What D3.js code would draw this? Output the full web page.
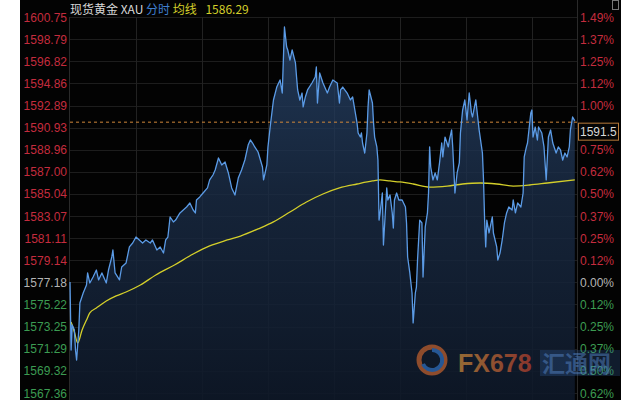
<!DOCTYPE html>
<html><head><meta charset="utf-8">
<script src="https://cdn.jsdelivr.net/npm/d3@7"></script>
<style>html,body{margin:0;padding:0;background:#fff;}svg{display:block}</style>
</head><body>
<svg id="c" width="640" height="400"></svg>
<script>
const priceTicks = [1600.75,1598.79,1596.82,1594.86,1592.89,1590.93,1588.96,1587.00,1585.04,1583.07,1581.11,1579.14,1577.18,1575.22,1573.25,1571.29,1569.32,1567.36];
const pctTicks = ["1.49%","1.37%","1.25%","1.12%","1.00%","0.87%","0.75%","0.62%","0.50%","0.37%","0.25%","0.12%","0.00%","0.12%","0.25%","0.37%","0.50%","0.62%"];
const basePrice = 1577.18;
const hourTicks = [60,120,180,240,300,360,420];
const timeDomain = [0,461];
const lastPrice = 1591.5;
const avgLast = 1586.29;

const times = [0,1,2,4,5,6,8,9,12,15,16,18,21,24,26,29,33,35,38,39,41,45,47,51,54,57,60,63,66,69,73,75,79,82,85,87,89,91,94,96,100,103,106,109,112,114,115,118,121,125,127,130,132,135,138,141,144,147,150,153,156,159,162,164,166,168,171,175,176,177,179,180,182,185,188,191,193,194,195,197,198,200,202,205,206,207,209,211,212,214,216,220,223,224,225,227,230,234,236,239,243,245,246,248,252,255,257,259,261,262,264,265,266,268,270,271,272,275,276,277,279,280,281,282,284,285,288,289,291,293,294,295,297,299,302,305,306,307,309,311,312,314,315,316,318,320,321,323,325,326,327,328,330,332,334,336,338,339,341,344,345,347,348,350,352,354,355,357,359,361,363,365,366,369,370,372,375,376,377,378,379,381,384,385,388,389,391,393,395,397,399,402,403,405,407,410,412,413,415,416,419,420,421,423,425,426,429,431,433,435,437,439,442,444,446,448,450,452,454,455,457,459];
const prices = [1577.22,1571.18,1573.40,1572.96,1571.18,1570.29,1572.96,1575.35,1576.24,1576.95,1578.02,1577.13,1577.66,1578.28,1577.40,1578.02,1577.13,1578.28,1579.44,1580.06,1578.02,1577.40,1578.55,1578.91,1580.33,1580.68,1581.21,1580.95,1580.68,1580.95,1580.68,1580.95,1580.06,1580.33,1579.79,1580.95,1581.21,1582.99,1582.55,1582.72,1583.35,1583.61,1583.88,1584.23,1583.61,1583.35,1584.50,1584.77,1585.12,1585.57,1586.28,1586.72,1587.16,1588.23,1587.61,1587.87,1586.90,1585.57,1584.94,1586.45,1587.16,1588.05,1589.38,1589.83,1589.56,1589.21,1588.76,1587.43,1586.28,1586.72,1587.61,1589.21,1590.98,1593.38,1594.53,1595.16,1594.00,1596.93,1599.86,1598.09,1597.82,1596.93,1597.82,1596.67,1595.42,1594.27,1593.38,1594.00,1592.76,1593.65,1594.27,1594.89,1595.42,1596.31,1593.11,1595.78,1594.89,1594.00,1594.53,1595.16,1594.89,1593.11,1594.27,1594.53,1594.00,1593.38,1593.65,1592.49,1591.34,1590.45,1590.09,1590.45,1589.56,1588.67,1590.45,1592.76,1594.27,1593.11,1591.34,1590.09,1589.21,1588.05,1582.72,1583.35,1585.12,1580.50,1585.57,1584.50,1584.94,1583.35,1582.01,1584.50,1585.12,1584.50,1584.50,1583.88,1582.46,1579.44,1578.02,1576.24,1573.58,1576.24,1576.77,1579.17,1582.72,1582.46,1577.66,1582.10,1583.35,1585.12,1589.21,1587.43,1586.28,1586.90,1586.28,1587.79,1589.56,1588.32,1590.09,1589.21,1589.83,1590.72,1589.21,1585.12,1586.90,1587.79,1590.45,1592.49,1593.38,1591.60,1594.00,1592.23,1591.87,1593.38,1592.49,1590.72,1588.67,1586.28,1582.72,1580.33,1582.72,1581.57,1582.99,1581.57,1580.33,1579.17,1579.79,1580.95,1582.46,1583.35,1583.88,1583.61,1584.50,1583.35,1584.23,1583.88,1585.12,1588.32,1589.21,1589.56,1592.23,1592.49,1590.09,1590.98,1589.83,1590.98,1590.45,1589.21,1586.28,1590.09,1590.72,1589.56,1588.67,1589.21,1588.94,1588.05,1588.67,1588.32,1589.21,1590.72,1591.87,1591.52];

const avgTimes = [1,4,7,11,15,18,24,33,42,51,64,78,95,112,127,143,155,171,185,200,215,230,245,261,275,282,291,300,312,327,343,357,373,388,403,418,434,459];
const avgValues = [1573.67,1572.78,1571.80,1572.96,1573.84,1574.47,1574.91,1575.53,1575.98,1576.33,1576.95,1577.84,1578.73,1579.70,1580.42,1580.95,1581.30,1581.93,1582.55,1583.43,1584.32,1585.03,1585.57,1585.92,1586.19,1586.28,1586.19,1586.10,1585.92,1585.65,1585.74,1585.92,1586.01,1585.92,1585.74,1585.83,1586.01,1586.29];

const svg = d3.select("#c");
const L = 70, R = 577, T = 17, B = 393;
const x = d3.scaleLinear().domain(timeDomain).range([L, R]);
const y = d3.scaleLinear().domain([priceTicks[priceTicks.length-1], priceTicks[0]]).range([B, T]);

const red = "#c52c3e", green = "#3c9c52", gray = "#b4b4b4";
const colorFor = v => Math.abs(v - basePrice) < 0.005 ? gray : (v > basePrice ? red : green);

svg.append("rect").attr("x",20).attr("y",0).attr("width",601).attr("height",400).attr("fill","#030303");

const defs = svg.append("defs");
const g1 = defs.append("linearGradient").attr("id","ag").attr("x1",0).attr("y1",0).attr("x2",0).attr("y2",1);
g1.append("stop").attr("offset","0%").attr("stop-color","#2a4870").attr("stop-opacity",0.75);
g1.append("stop").attr("offset","45%").attr("stop-color","#1a2c46").attr("stop-opacity",0.8);
g1.append("stop").attr("offset","100%").attr("stop-color","#0e1828").attr("stop-opacity",0.9);
const wg = defs.append("linearGradient").attr("id","wg").attr("x1",0).attr("y1",0).attr("x2",1).attr("y2",0);
wg.append("stop").attr("offset","0%").attr("stop-color","#c98a3a");
wg.append("stop").attr("offset","100%").attr("stop-color","#b8402e");

const grid = svg.append("g");
grid.selectAll("line.h").data(priceTicks).join("line")
  .attr("x1",L).attr("x2",R).attr("y1",d=>Math.round(y(d))+0.5).attr("y2",d=>Math.round(y(d))+0.5)
  .attr("stroke","#1d1d1d").attr("stroke-width",1);
grid.selectAll("line.v").data(hourTicks).join("line")
  .attr("y1",T).attr("y2",400).attr("x1",d=>Math.round(x(d))+0.5).attr("x2",d=>Math.round(x(d))+0.5)
  .attr("stroke","#222").attr("stroke-width",1);
svg.append("line").attr("x1",L-0.5).attr("x2",L-0.5).attr("y1",T).attr("y2",400).attr("stroke","#2a2a2a");
svg.append("line").attr("x1",R+0.5).attr("x2",R+0.5).attr("y1",0).attr("y2",400).attr("stroke","#2a2a2a");

const pts = times.map((t,i)=>({t, v:prices[i]}));
const area = d3.area().x(d=>x(d.t)).y0(400).y1(d=>y(d.v));
svg.append("path").datum(pts).attr("d",area).attr("fill","url(#ag)");

svg.append("line").attr("x1",L).attr("x2",R).attr("y1",y(lastPrice)+1).attr("y2",y(lastPrice)+1)
  .attr("stroke","#d0883a").attr("stroke-width",1).attr("stroke-dasharray","3,3");

const apts = avgTimes.map((t,i)=>({t, v:avgValues[i]}));
svg.append("path").datum(apts).attr("d",d3.line().x(d=>x(d.t)).y(d=>y(d.v)).curve(d3.curveMonotoneX))
  .attr("fill","none").attr("stroke","#d4cf2a").attr("stroke-width",1.3);

svg.append("path").datum(pts).attr("d",d3.line().x(d=>x(d.t)).y(d=>y(d.v)))
  .attr("fill","none").attr("stroke","#5b9be6").attr("stroke-width",1.3).attr("stroke-linejoin","round");

const fontNum = "'Liberation Sans', Arial, sans-serif";
svg.append("g").selectAll("text").data(priceTicks).join("text")
  .attr("x",67).attr("y",d=>y(d)+4.5).attr("text-anchor","end")
  .attr("font-family",fontNum).attr("font-size",12).attr("fill",d=>colorFor(d))
  .text(d=>d.toFixed(2));

// last price box position (hides the percentage label it covers, as in the reference)
const by = y(lastPrice)+2;
const rightIdx = priceTicks.map((d,i)=>i).filter(i => Math.abs(y(priceTicks[i]) - (by+8)) > 9);
svg.append("g").selectAll("text").data(rightIdx).join("text")
  .attr("x",580).attr("y",i=>y(priceTicks[i])+4.5).attr("text-anchor","start")
  .attr("font-family",fontNum).attr("font-size",12).attr("fill",i=>colorFor(priceTicks[i]))
  .text(i=>pctTicks[i]);

svg.append("rect").attr("x",578.5).attr("y",by).attr("width",40).attr("height",17)
  .attr("fill","#050505").attr("stroke","#b87a3a").attr("stroke-width",1);
svg.append("text").attr("x",580).attr("y",by+13).attr("font-family",fontNum).attr("font-size",12)
  .attr("fill","#d8d8d8").text(lastPrice.toFixed(1));

const hdr = svg.append("text").attr("x",70).attr("y",13.5).attr("font-size",12)
  .attr("font-family","'Noto Sans CJK SC', 'Liberation Sans', sans-serif");
hdr.append("tspan").attr("fill","#d8d8d8").text("现货黄金 XAU ");
hdr.append("tspan").attr("fill","#3f7fd0").text("分时 ");
hdr.append("tspan").attr("fill","#d4cf2a").text("均线 ");
hdr.append("tspan").attr("fill","#d4cf2a").attr("dx",6).text(avgLast.toFixed(2));

svg.append("rect").attr("x",612.5).attr("y",0.5).attr("width",6).attr("height",9).attr("fill","none").attr("stroke","#777");

const wm = svg.append("g").attr("opacity",0.72);
wm.append("circle").attr("cx",432).attr("cy",360).attr("r",13).attr("fill","none").attr("stroke","#c0602e").attr("stroke-width",5);
wm.append("path").attr("d","M432,350 a10,10 0 1,1 -9,14").attr("fill","none").attr("stroke","#2f6fbf").attr("stroke-width",4);
wm.append("text").attr("x",458).attr("y",372).attr("font-family","'Liberation Sans', Arial, sans-serif")
  .attr("font-weight","bold").attr("font-size",25).attr("fill","url(#wg)").text("FX678");
wm.append("rect").attr("x",540).attr("y",350).attr("width",80).attr("height",26).attr("fill","#3a6ab0").attr("opacity",0.35);
wm.append("text").attr("x",542).attr("y",372).attr("font-family","'Noto Sans CJK SC', sans-serif")
  .attr("font-weight","bold").attr("font-size",23).attr("fill","#4f7fc0").attr("opacity",0.8).text("汇通网");
</script>
</body></html>
